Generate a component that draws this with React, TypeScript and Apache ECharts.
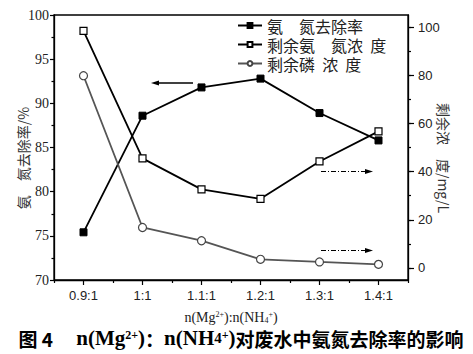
import React, { useEffect, useRef } from "react";
import * as echarts from "echarts";

const categories = ["0.9:1", "1:1", "1.1:1", "1.2:1", "1.3:1", "1.4:1"];
const removalRate = [75.4, 88.6, 91.8, 92.8, 88.9, 85.8];
const residualN = [98.4, 45.5, 32.6, 28.7, 44.2, 56.7];
const residualP = [79.8, 16.8, 11.3, 3.6, 2.5, 1.5];
const seriesNames = ["氨　氮去除率", "剩余氨　氮浓  度", "剩余磷  浓  度"];
const rightLabels = [0, 20, 40, 60, 80, 100];
const rightTicks = [0, 10, 20, 30, 40, 50, 60, 70, 80, 90, 100];

const SERIF = "'Liberation Serif', 'DejaVu Serif', serif";
const SANS = "'Liberation Sans', Arial, sans-serif";
const CJK = "'Noto Sans CJK SC', sans-serif";

export default function App() {
  const ref = useRef<HTMLDivElement>(null);
  useEffect(() => {
    if (!ref.current) return;
    const chart = echarts.init(ref.current, undefined, { renderer: "svg" });
    const axisLine = { show: true, onZero: false, lineStyle: { color: "#000", width: 1.3 } };
    chart.setOption({
      animation: false,
      backgroundColor: "#fff",
      grid: {
        left: 54,
        top: 15,
        right: 65,
        bottom: 74,
        show: true,
        borderColor: "#000",
        borderWidth: 1.3,
      },
      legend: {
        orient: "vertical",
        left: 237,
        top: 16,
        padding: 0,
        itemGap: 0,
        itemWidth: 24,
        itemHeight: 6,
        textStyle: { fontSize: 16, lineHeight: 19, fontFamily: CJK, color: "#222" },
        data: seriesNames,
      },
      xAxis: [
        {
          type: "category",
          data: categories,
          boundaryGap: true,
          axisLine,
          axisTick: { show: true, alignWithLabel: true, length: 5, lineStyle: { color: "#000", width: 1.2 } },
          axisLabel: { fontFamily: SANS, fontSize: 13, color: "#222", margin: 9 },
          splitLine: { show: false },
        },
        {
          type: "category",
          data: categories,
          boundaryGap: true,
          position: "bottom",
          axisLine: { show: false, onZero: false },
          axisTick: { show: true, alignWithLabel: false, length: 3, lineStyle: { color: "#000", width: 1.2 } },
          axisLabel: { show: false },
          splitLine: { show: false },
        },
      ],
      yAxis: [
        {
          type: "value",
          min: 70,
          max: 100,
          interval: 5,
          position: "left",
          axisLine,
          axisTick: { show: true, length: 4, lineStyle: { color: "#000", width: 1.2 } },
          minorTick: { show: true, splitNumber: 2, length: 2.5, lineStyle: { color: "#000", width: 1.2 } },
          axisLabel: { fontFamily: SERIF, fontSize: 14, color: "#222", margin: 5 },
          splitLine: { show: false },
        },
        {
          type: "value",
          min: -5,
          max: 105,
          position: "right",
          axisLine,
          axisTick: { show: true, length: 6, customValues: rightLabels, lineStyle: { color: "#000", width: 1.2 } },
          axisLabel: { fontFamily: SANS, fontSize: 13, color: "#222", margin: 10, customValues: rightLabels },
          splitLine: { show: false },
        },
        {
          type: "value",
          min: -5,
          max: 105,
          position: "right",
          axisLine: { show: false, onZero: false },
          axisTick: { show: true, length: 3, customValues: rightTicks, lineStyle: { color: "#000", width: 1.2 } },
          axisLabel: { show: false, customValues: rightTicks },
          splitLine: { show: false },
        },
      ],
      series: [
        {
          name: seriesNames[0],
          type: "line",
          yAxisIndex: 0,
          data: removalRate,
          symbol: "rect",
          symbolSize: 7,
          lineStyle: { color: "#000", width: 1.8 },
          itemStyle: { color: "#000", borderColor: "#000", borderWidth: 1 },
          z: 3,
        },
        {
          name: seriesNames[1],
          type: "line",
          yAxisIndex: 1,
          data: residualN,
          symbol: "rect",
          symbolSize: 7,
          lineStyle: { color: "#000", width: 1.8 },
          itemStyle: { color: "#fff", borderColor: "#000", borderWidth: 1.2 },
          z: 3,
        },
        {
          name: seriesNames[2],
          type: "line",
          yAxisIndex: 1,
          data: residualP,
          symbol: "circle",
          symbolSize: 8,
          lineStyle: { color: "#555", width: 1.8 },
          itemStyle: { color: "#fff", borderColor: "#444", borderWidth: 1.2 },
          z: 3,
        },
      ],
      graphic: [
        { type: "line", shape: { x1: 193, y1: 83, x2: 157, y2: 83 }, style: { stroke: "#000", lineWidth: 1.3 } },
        { type: "polygon", shape: { points: [[151, 83], [159, 80.5], [159, 85.5]] }, style: { fill: "#000" } },
        { type: "line", shape: { x1: 321, y1: 171.5, x2: 367, y2: 171.5 }, style: { stroke: "#000", lineWidth: 1, lineDash: [5, 2, 1, 2] } },
        { type: "polygon", shape: { points: [[373, 171.5], [365, 169], [365, 174]] }, style: { fill: "#000" } },
        { type: "line", shape: { x1: 321, y1: 250.5, x2: 367, y2: 250.5 }, style: { stroke: "#000", lineWidth: 1, lineDash: [5, 2, 1, 2] } },
        { type: "polygon", shape: { points: [[373, 250.5], [365, 248], [365, 253]] }, style: { fill: "#000" } },
        {
          type: "text",
          x: 23,
          y: 158,
          rotation: Math.PI / 2,
          style: {
            text: "氨　氮去除率/%",
            fontSize: 14,
            fontFamily: CJK,
            fill: "#333",
            align: "center",
            verticalAlign: "middle",
          },
        },
        {
          type: "text",
          x: 444,
          y: 158,
          rotation: -Math.PI / 2,
          style: {
            text: "剩余浓　度/mg/L",
            fontSize: 14,
            fontFamily: CJK,
            fill: "#333",
            align: "center",
            verticalAlign: "middle",
          },
        },
        {
          type: "text",
          x: 231,
          y: 317,
          style: {
            text: "{b|n(Mg}{sup|2+}{b|):n(NH}{sub|4}{sup|+}{b|)}",
            align: "center",
            verticalAlign: "middle",
            fill: "#222",
            rich: {
              b: { fontFamily: SERIF, fontSize: 14, lineHeight: 14, verticalAlign: "middle", fill: "#222" },
              sup: { fontFamily: SERIF, fontSize: 8, lineHeight: 14, verticalAlign: "top", fill: "#222" },
              sub: { fontFamily: SERIF, fontSize: 8, lineHeight: 14, verticalAlign: "bottom", fill: "#222" },
            },
          },
        },
        {
          type: "text",
          x: 241,
          y: 338,
          style: {
            text: "{c|图 4}{s|　 }{b|n(Mg}{sup|2+}{b|)}{c|：}{b|n(NH}{b4|4}{sup|+}{b|)}{c|对废水中氨氮去除率的影响}",
            align: "center",
            verticalAlign: "middle",
            fill: "#000",
            rich: {
              c: { fontFamily: CJK, fontSize: 19, fontWeight: "bold", lineHeight: 19, verticalAlign: "middle", fill: "#000" },
              s: { fontFamily: CJK, fontSize: 19, lineHeight: 19, fill: "#000" },
              b: { fontFamily: SERIF, fontSize: 21, fontWeight: "bold", lineHeight: 19, verticalAlign: "middle", fill: "#000" },
              b4: { fontFamily: SERIF, fontSize: 15, fontWeight: "bold", lineHeight: 19, verticalAlign: "middle", fill: "#000" },
              sup: { fontFamily: SERIF, fontSize: 12, fontWeight: "bold", lineHeight: 19, verticalAlign: "top", fill: "#000" },
            },
          },
        },
      ],
    });
    return () => chart.dispose();
  }, []);
  return (
    <div
      ref={ref}
      style={{ position: "absolute", left: 0, top: 0, width: 473, height: 354, background: "#fff" }}
    />
  );
}
